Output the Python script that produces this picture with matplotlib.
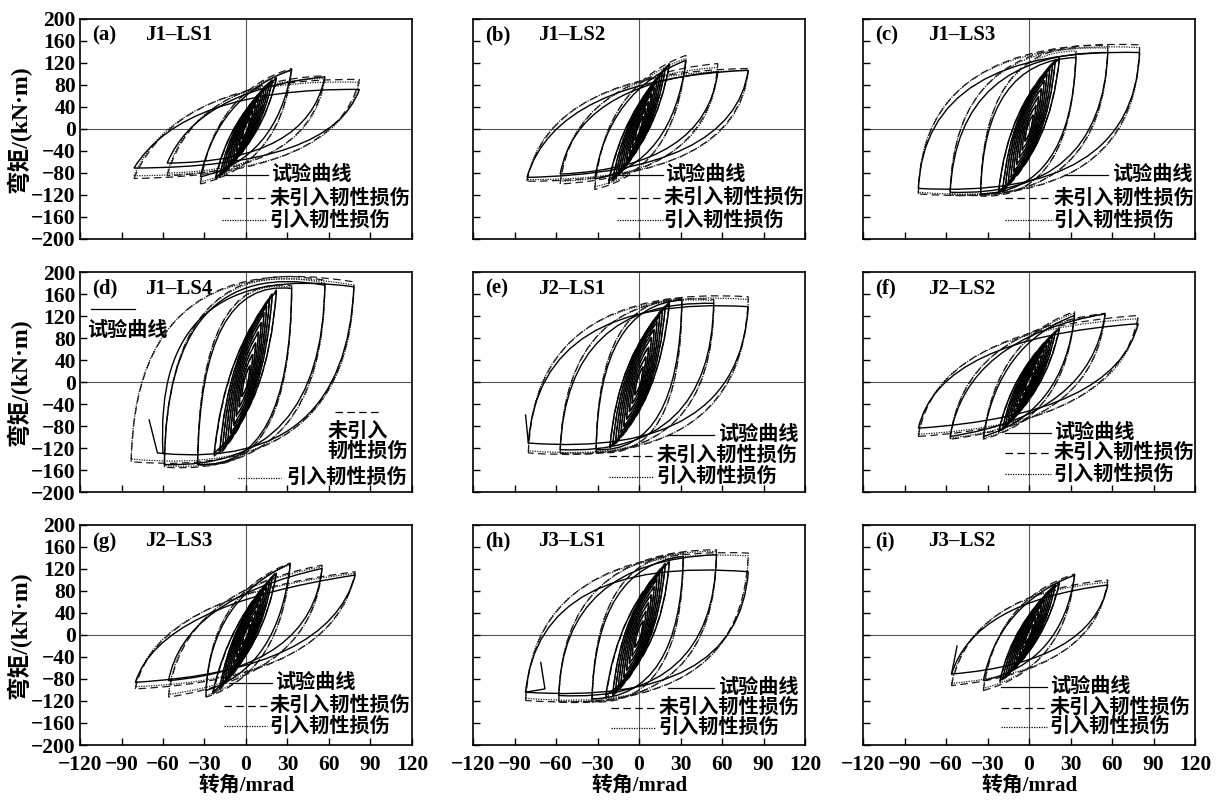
import matplotlib
matplotlib.use("Agg")
import matplotlib.pyplot as plt
from matplotlib.path import Path
from matplotlib.patches import PathPatch

# ---- data (rotation in mrad, moment in kN*m) ----
# one entry per loading cycle: + tip, - tip, and bezier control points of the
# reloading (CU) and unloading (CD) branches; *_CU_M / *_CD_M are the fuller
# controls of the model curves for the large cycles

A_XP = [3, 5, 7, 9, 11, 13, 15, 17, 19, 22, 33, 57, 82]
A_XN = [-3, -5, -7, -9, -11, -13, -15, -17, -19, -22, -33, -57, -81]
A_MP = [20, 32, 43, 54, 63, 71, 78, 84, 88, 92, 108, 95, 72]
A_MN = [-18, -29, -40, -50, -59, -67, -74, -80, -85, -88, -87, -62, -71]
A_MP_DASH = [21, 34, 45, 56, 65, 73, 80, 86, 90, 94, 110, 97, 90]
A_MN_DASH = [-19, -31, -42, -53, -62, -70, -78, -84, -89, -92, -100, -85, -90]
A_MP_DOT = [21, 33, 44, 55, 64, 72, 79, 85, 89, 93, 106, 92, 85]
A_MN_DOT = [-19, -30, -41, -52, -61, -69, -76, -82, -87, -90, -96, -80, -85]
A_CU = [(-1.7, 5), (-2.8, 8), (-3.9, 11), (-5, 13), (-6, 16), (-7.2, 18), (-8.3, 19),
        (-9.4, 21), (-10.5, 22), (-12, 23), (-20, 60), (-35, 70), (-45, 75)]
A_CD = [(1.7, -4.5), (2.8, -7), (3.9, -10), (5, -12.5), (6, -15), (7.2, -17), (8.3, -18.5),
        (9.4, -20), (10.5, -21), (12, -22), (22, -55), (45, -60), (62, -70)]
A_CU_M = [(-22, 70), (-38, 85), (-50, 95)]
A_CD_M = [(25, -65), (48, -75), (66, -85)]

B_XP = [3, 5, 7, 9, 11, 13, 15, 17, 19, 22, 34, 57, 79]
B_XN = [-3, -5, -7, -9, -11, -13, -15, -17, -19, -22, -32, -57, -81]
B_MP = [22, 36, 50, 63, 75, 86, 96, 104, 110, 117, 125, 104, 107]
B_MN = [-20, -33, -45, -56, -66, -74, -81, -87, -91, -95, -91, -82, -88]
B_MP_DASH = [23, 38, 52, 65, 77, 88, 98, 106, 112, 119, 134, 119, 110]
B_MN_DASH = [-21, -35, -47, -59, -69, -77, -85, -91, -95, -100, -110, -100, -95]
B_MP_DOT = [23, 37, 51, 64, 76, 87, 97, 105, 111, 118, 128, 112, 106]
B_MN_DOT = [-21, -34, -46, -58, -68, -76, -83, -89, -93, -98, -105, -95, -92]
B_CU = [(-1.7, 5.5), (-2.8, 9), (-3.9, 12.5), (-5, 16), (-6, 19), (-7.2, 21.5), (-8.3, 24),
        (-9.4, 26), (-10.5, 27.5), (-12, 29), (-22, 70), (-45, 80), (-60, 90)]
B_CD = [(1.7, -5), (2.8, -8), (3.9, -11), (5, -14), (6, -16.5), (7.2, -18.5), (8.3, -20),
        (9.4, -22), (10.5, -23), (12, -24), (24, -65), (48, -70), (68, -80)]
B_CU_M = [(-25, 80), (-48, 95), (-65, 105)]
B_CD_M = [(27, -75), (52, -85), (72, -95)]

C_XP = [3, 5, 7, 9, 11, 13, 15, 17, 19, 22, 34, 57, 80]
C_XN = [-3, -5, -7, -9, -11, -13, -15, -17, -19, -22, -35, -57, -80]
C_MP = [25, 42, 58, 73, 87, 99, 109, 117, 123, 128, 130, 139, 139]
C_MN = [-22, -37, -51, -64, -76, -87, -96, -104, -110, -114, -118, -115, -108]
C_MP_DASH = [26, 44, 60, 75, 89, 101, 111, 120, 126, 132, 148, 152, 153]
C_MN_DASH = [-23, -39, -53, -66, -79, -90, -99, -107, -114, -118, -122, -120, -118]
C_MP_DOT = [26, 43, 59, 74, 88, 100, 110, 119, 125, 130, 142, 147, 148]
C_MN_DOT = [-23, -38, -52, -65, -78, -89, -98, -106, -112, -116, -120, -118, -115]
C_CU = [(-2.1, 9), (-3.5, 15), (-4.9, 20), (-6.3, 26), (-7.7, 30), (-9.1, 35), (-10.5, 38),
        (-11.9, 41), (-13.3, 43), (-15.4, 45), (-33, 125), (-52, 140), (-75, 150)]
C_CD = [(2.1, -8), (3.5, -13), (4.9, -18), (6.3, -22), (7.7, -27), (9.1, -30), (10.5, -34),
        (11.9, -36), (13.3, -38), (15.4, -40), (30, -115), (52, -125), (75, -130)]
C_CU_M = [(-34, 140), (-55, 160), (-78, 170)]
C_CD_M = [(32, -130), (55, -140), (78, -150)]

D_XP = [3, 5, 7, 9, 11, 13, 15, 17, 19, 22, 33, 57, 78]
D_XN = [-3, -5, -7, -9, -11, -13, -15, -17, -19, -23, -35, -59, -60]
D_XN_MODEL = [-3, -5, -7, -9, -11, -13, -15, -17, -19, -23, -35, -59, -83]
D_MP = [30, 50, 70, 90, 108, 124, 138, 150, 158, 165, 170, 176, 173]
D_MN = [-26, -44, -61, -77, -92, -104, -114, -121, -126, -129, -150, -150, -130]
D_MP_DASH = [31, 52, 72, 92, 110, 127, 141, 153, 161, 168, 175, 185, 182]
D_MN_DASH = [-27, -46, -63, -80, -95, -108, -118, -126, -131, -135, -150, -155, -145]
D_MP_DOT = [31, 51, 71, 91, 109, 126, 140, 152, 160, 167, 172, 180, 176]
D_MN_DOT = [-27, -45, -62, -79, -94, -106, -116, -124, -129, -132, -148, -152, -140]
D_CU = [(-2.1, 10), (-3.5, 18), (-4.9, 25), (-6.3, 32), (-7.7, 38), (-9.1, 43), (-10.5, 48),
        (-11.9, 52), (-13.3, 55), (-15.4, 58), (-33, 190), (-58, 230), (-68, 225)]
D_CD = [(2.1, -9), (3.5, -15), (4.9, -21), (6.3, -27), (7.7, -32), (9.1, -36), (10.5, -40),
        (11.9, -42), (13.3, -44), (16, -45), (32, -160), (55, -160), (72, -160)]
D_CU_M = [(-34, 200), (-58, 240), (-80, 250)]
D_CD_M = [(33, -170), (57, -175), (76, -180)]
D_TAIL = [(-64, -129), (-70, -69)]

E_XP = [3, 5, 7, 9, 11, 13, 15, 17, 19, 22, 31, 54, 79]
E_XN = [-3, -5, -7, -9, -11, -13, -15, -17, -19, -21, -31, -57, -80]
E_MP = [27, 45, 63, 80, 95, 108, 120, 130, 137, 143, 149, 143, 137]
E_MN = [-23, -38, -53, -67, -80, -91, -101, -109, -114, -117, -123, -123, -111]
E_MP_DASH = [28, 47, 65, 82, 97, 111, 123, 133, 140, 146, 152, 150, 155]
E_MN_DASH = [-24, -40, -55, -69, -82, -94, -104, -112, -117, -120, -128, -130, -129]
E_MP_DOT = [28, 46, 64, 81, 96, 110, 122, 132, 139, 145, 150, 148, 150]
E_MN_DOT = [-24, -39, -54, -68, -81, -93, -103, -111, -116, -119, -126, -128, -125]
E_CU = [(-2.1, 9.5), (-3.5, 16), (-4.9, 22), (-6.3, 28), (-7.7, 33), (-9.1, 38), (-10.5, 42),
        (-11.9, 45), (-13.3, 48), (-15.4, 50), (-29, 140), (-52, 150), (-72, 160)]
E_CD = [(2.1, -8), (3.5, -13), (4.9, -18.5), (6.3, -23.5), (7.7, -28), (9.1, -32), (10.5, -35),
        (11.9, -38), (13.3, -40), (14.7, -41), (29, -130), (52, -135), (72, -140)]
E_CU_M = [(-30, 155), (-54, 170), (-76, 180)]
E_CD_M = [(31, -145), (55, -150), (76, -160)]
E_TAIL = [(-82, -60)]

F_XP = [3, 5, 7, 9, 11, 13, 15, 17, 19, 22, 33, 55, 79]
F_XN = [-3, -5, -7, -9, -11, -13, -15, -17, -19, -22, -33, -57, -80]
F_MP = [17, 28, 38, 48, 58, 67, 76, 84, 90, 96, 121, 124, 106]
F_MN = [-15, -25, -35, -44, -53, -62, -70, -77, -84, -90, -99, -99, -84]
F_MP_DASH = [18, 30, 40, 50, 60, 69, 78, 86, 92, 99, 128, 125, 121]
F_MN_DASH = [-16, -27, -37, -46, -55, -64, -72, -80, -87, -93, -104, -104, -99]
F_MP_DOT = [18, 29, 39, 49, 59, 68, 77, 85, 91, 98, 125, 123, 115]
F_MN_DOT = [-16, -26, -36, -45, -54, -63, -71, -78, -85, -91, -102, -102, -95]
F_CU = [(-1.7, 4), (-2.8, 7), (-3.9, 9.5), (-5, 12), (-6, 14.5), (-7.2, 17), (-8.3, 19),
        (-9.4, 21), (-10.5, 22.5), (-12, 24), (-22, 70), (-45, 80), (-65, 80)]
F_CD = [(1.7, -4), (2.8, -6), (3.9, -9), (5, -11), (6, -13), (7.2, -15.5), (8.3, -17.5),
        (9.4, -19), (10.5, -21), (12, -22.5), (25, -55), (45, -60), (62, -60)]
F_CU_M = [(-24, 80), (-48, 92), (-68, 95)]
F_CD_M = [(27, -65), (48, -72), (66, -75)]

G_XP = [3, 5, 7, 9, 11, 13, 15, 17, 19, 22, 32, 55, 79]
G_XN = [-3, -5, -7, -9, -11, -13, -15, -17, -19, -24, -29, -56, -80]
G_MP = [19, 31, 43, 55, 66, 77, 87, 96, 104, 112, 130, 121, 109]
G_MN = [-17, -28, -39, -50, -60, -70, -79, -88, -96, -104, -101, -83, -86]
G_MP_DASH = [20, 33, 45, 57, 68, 79, 89, 98, 107, 115, 131, 127, 115]
G_MN_DASH = [-18, -30, -41, -52, -62, -73, -82, -91, -100, -108, -113, -113, -98]
G_MP_DOT = [20, 32, 44, 56, 67, 78, 88, 97, 105, 113, 128, 124, 112]
G_MN_DOT = [-18, -29, -40, -51, -61, -71, -80, -89, -98, -106, -110, -108, -94]
G_CU = [(-1.7, 5), (-2.8, 8), (-3.9, 11), (-5, 14), (-6, 16.5), (-7.2, 19), (-8.3, 22),
        (-9.4, 24), (-10.5, 26), (-12, 28), (-25, 65), (-45, 65), (-62, 55)]
G_CD = [(1.7, -4), (2.8, -7), (3.9, -10), (5, -12.5), (6, -15), (7.2, -17.5), (8.3, -20),
        (9.4, -22), (10.5, -24), (13, -26), (24, -60), (47, -60), (60, -65)]
G_CU_M = [(-27, 75), (-48, 78), (-66, 70)]
G_CD_M = [(26, -70), (50, -72), (64, -80)]

H_XP = [3, 5, 7, 9, 11, 13, 15, 17, 19, 22, 32, 56, 79]
H_XN = [-3, -5, -7, -9, -11, -13, -15, -17, -19, -24, -34, -58, -82]
H_MP = [25, 42, 58, 73, 87, 100, 111, 120, 127, 133, 143, 146, 115]
H_MN = [-22, -37, -51, -64, -76, -86, -95, -102, -107, -110, -116, -110, -104]
H_MP_DASH = [26, 44, 60, 75, 89, 103, 114, 123, 131, 137, 150, 155, 149]
H_MN_DASH = [-23, -39, -53, -66, -78, -89, -98, -106, -111, -115, -122, -122, -119]
H_MP_DOT = [26, 43, 59, 74, 88, 102, 113, 122, 129, 135, 147, 152, 144]
H_MN_DOT = [-23, -38, -52, -65, -77, -88, -97, -104, -109, -113, -120, -120, -115]
H_CU = [(-2.1, 9), (-3.5, 15), (-4.9, 20), (-6.3, 26), (-7.7, 30), (-9.1, 35), (-10.5, 39),
        (-11.9, 42), (-13.3, 44), (-15.4, 47), (-31, 125), (-55, 135), (-72, 145)]
H_CD = [(2.1, -8), (3.5, -13), (4.9, -18), (6.3, -22), (7.7, -27), (9.1, -30), (10.5, -33),
        (11.9, -36), (13.3, -37), (16.8, -38), (30, -115), (54, -125), (72, -130)]
H_CU_M = [(-32, 140), (-57, 155), (-76, 165)]
H_CD_M = [(32, -130), (56, -140), (76, -150)]
H_TAIL = [(-68, -98), (-71, -50)]

I_XP = [3, 5, 7, 9, 11, 13, 15, 17, 19, 22, 33, 57]
I_XN = [-3, -5, -7, -9, -11, -13, -15, -17, -19, -21, -33, -56]
I_MP = [19, 31, 42, 53, 62, 71, 78, 85, 90, 94, 109, 91]
I_MN = [-15, -25, -35, -44, -53, -61, -68, -74, -79, -83, -83, -71]
I_MP_DASH = [20, 33, 44, 55, 64, 73, 80, 87, 93, 97, 111, 100]
I_MN_DASH = [-16, -27, -37, -46, -55, -63, -70, -77, -82, -86, -101, -92]
I_MP_DOT = [20, 32, 43, 54, 63, 72, 79, 86, 92, 96, 108, 96]
I_MN_DOT = [-16, -26, -36, -45, -54, -62, -69, -75, -80, -85, -97, -88]
I_CU = [(-1.7, 5), (-2.8, 8), (-3.9, 10.5), (-5, 13), (-6, 15.5), (-7.2, 18), (-8.3, 19.5),
        (-9.4, 21), (-10.5, 22.5), (-12, 23.5), (-22, 55), (-40, 60)]
I_CD = [(1.7, -4), (2.8, -6), (3.9, -9), (5, -11), (6, -13), (7.2, -15), (8.3, -17),
        (9.4, -18.5), (10.5, -20), (11.5, -21), (24, -50), (45, -50)]
I_CU_M = [(-24, 65), (-43, 75)]
I_CD_M = [(26, -60), (48, -65)]
I_TAIL = [(-52, -20)]

LABELS = ["(a)", "(b)", "(c)", "(d)", "(e)", "(f)", "(g)", "(h)", "(i)"]
NAMES = ["J1–LS1", "J1–LS2", "J1–LS3", "J1–LS4", "J2–LS1", "J2–LS2",
         "J2–LS3", "J3–LS1", "J3–LS2"]
LEGEND_TEXT = ["试验曲线", "未引入韧性损伤", "引入韧性损伤"]
X_TICKS = [-120, -90, -60, -30, 0, 30, 60, 90, 120]
Y_TICKS = [-200, -160, -120, -80, -40, 0, 40, 80, 120, 160, 200]

panels = [
    dict(xp=A_XP, xn=A_XN, mp=A_MP, mn=A_MN, mpd=A_MP_DASH, mnd=A_MN_DASH,
         mpo=A_MP_DOT, mno=A_MN_DOT, cu=A_CU, cd=A_CD, cum=A_CU_M, cdm=A_CD_M),
    dict(xp=B_XP, xn=B_XN, mp=B_MP, mn=B_MN, mpd=B_MP_DASH, mnd=B_MN_DASH,
         mpo=B_MP_DOT, mno=B_MN_DOT, cu=B_CU, cd=B_CD, cum=B_CU_M, cdm=B_CD_M),
    dict(xp=C_XP, xn=C_XN, mp=C_MP, mn=C_MN, mpd=C_MP_DASH, mnd=C_MN_DASH,
         mpo=C_MP_DOT, mno=C_MN_DOT, cu=C_CU, cd=C_CD, cum=C_CU_M, cdm=C_CD_M),
    dict(xp=D_XP, xn=D_XN, xnm=D_XN_MODEL, mp=D_MP, mn=D_MN, mpd=D_MP_DASH,
         mnd=D_MN_DASH, mpo=D_MP_DOT, mno=D_MN_DOT, cu=D_CU, cd=D_CD,
         cum=D_CU_M, cdm=D_CD_M, tail=D_TAIL),
    dict(xp=E_XP, xn=E_XN, mp=E_MP, mn=E_MN, mpd=E_MP_DASH, mnd=E_MN_DASH,
         mpo=E_MP_DOT, mno=E_MN_DOT, cu=E_CU, cd=E_CD, cum=E_CU_M, cdm=E_CD_M,
         tail=E_TAIL),
    dict(xp=F_XP, xn=F_XN, mp=F_MP, mn=F_MN, mpd=F_MP_DASH, mnd=F_MN_DASH,
         mpo=F_MP_DOT, mno=F_MN_DOT, cu=F_CU, cd=F_CD, cum=F_CU_M, cdm=F_CD_M),
    dict(xp=G_XP, xn=G_XN, mp=G_MP, mn=G_MN, mpd=G_MP_DASH, mnd=G_MN_DASH,
         mpo=G_MP_DOT, mno=G_MN_DOT, cu=G_CU, cd=G_CD, cum=G_CU_M, cdm=G_CD_M),
    dict(xp=H_XP, xn=H_XN, mp=H_MP, mn=H_MN, mpd=H_MP_DASH, mnd=H_MN_DASH,
         mpo=H_MP_DOT, mno=H_MN_DOT, cu=H_CU, cd=H_CD, cum=H_CU_M, cdm=H_CD_M,
         tail=H_TAIL),
    dict(xp=I_XP, xn=I_XN, mp=I_MP, mn=I_MN, mpd=I_MP_DASH, mnd=I_MN_DASH,
         mpo=I_MP_DOT, mno=I_MN_DOT, cu=I_CU, cd=I_CD, cum=I_CU_M, cdm=I_CD_M,
         tail=I_TAIL),
]

# legend placement per panel: (x0, x1, y, text_x) for solid / dashed / dotted
legend_pos = [
    [(-16, 16, -83, 18), (-17, 15, -126, 17), (-17, 15, -166, 17)],
    [(-16, 17, -83, 19), (-16, 17, -125, 18), (-16, 17, -166, 18)],
    [(25, 57, -83, 60), (-17, 17, -126, 18), (-17, 17, -166, 18)],
    None,
    [(21, 54, -96, 57), (-22, 10, -135, 13), (-22, 10, -173, 13)],
    [(-17, 16, -92, 18), (-17, 16, -129, 18), (-17, 16, -168, 18)],
    [(-12, 19, -88, 21), (-16, 15, -129, 17), (-16, 15, -166, 17)],
    [(21, 54, -97, 57), (-20, 12, -133, 14), (-20, 12, -169, 14)],
    [(-20, 13, -95, 15), (-20, 13, -132, 15), (-20, 13, -167, 15)],
]

SERIF = "Liberation Serif"
CJK = [SERIF, "Noto Sans CJK SC", "DejaVu Sans"]
DASH = (0, (6, 3.5))
DOT = (0, (1.0, 1.0))
LEG_FS = 14.5


def draw_loops(ax, xp, xn, mp, mn, cu, cd, **kw):
    for i in range(len(xp)):
        verts = [(xn[i], mn[i]), cu[i], (xp[i], mp[i]), cd[i], (xn[i], mn[i])]
        codes = [Path.MOVETO, Path.CURVE3, Path.CURVE3, Path.CURVE3, Path.CURVE3]
        ax.add_patch(PathPatch(Path(verts, codes), fill=False, **kw))


fig = plt.figure(figsize=(12.21, 8.05), dpi=100)
col_left = [80, 473, 863]
row_top = [19, 272, 525]
w_px, h_px = 332, 220

for k, p in enumerate(panels):
    r, c = divmod(k, 3)
    ax = fig.add_axes([col_left[c] / 1221, 1 - (row_top[r] + h_px) / 805,
                       w_px / 1221, h_px / 805])
    ax.set_xlim(-120, 120)
    ax.set_ylim(-200, 200)
    ax.axhline(0, color="#555555", lw=0.8, zorder=1)
    ax.axvline(0, color="#555555", lw=0.8, zorder=1)

    n_big = len(p["cum"])
    cu_m = p["cu"][:-n_big] + p["cum"]
    cd_m = p["cd"][:-n_big] + p["cdm"]
    xnm = p.get("xnm", p["xn"])
    draw_loops(ax, p["xp"], xnm, p["mpd"], p["mnd"], cu_m, cd_m,
               ec="#1a1a1a", lw=0.9, ls=DASH, zorder=2)
    draw_loops(ax, p["xp"], xnm, p["mpo"], p["mno"], cu_m, cd_m,
               ec="#1a1a1a", lw=0.9, ls=DOT, zorder=2)
    draw_loops(ax, p["xp"], p["xn"], p["mp"], p["mn"], p["cu"], p["cd"],
               ec="black", lw=1.0, ls="-", zorder=3)
    if "tail" in p:
        tx = [p["xn"][-1]] + [t[0] for t in p["tail"]]
        ty = [p["mn"][-1]] + [t[1] for t in p["tail"]]
        ax.plot(tx, ty, color="black", lw=1.0, zorder=3)

    ax.text(-111, 170, LABELS[k], fontsize=15, family=SERIF, weight="bold",
            va="center", ha="left")
    ax.text(-73, 170, NAMES[k], fontsize=15, family=SERIF, weight="bold",
            va="center", ha="left")

    styles = ["-", DASH, DOT]
    if legend_pos[k] is not None:
        for (x0, x1, y, tx), st, lab in zip(legend_pos[k], styles, LEGEND_TEXT):
            ax.plot([x0, x1], [y, y], color="black", lw=0.9, ls=st, zorder=4)
            ax.text(tx, y, lab, fontsize=LEG_FS, family=CJK, weight="bold",
                    va="center", ha="left", zorder=4)
    else:
        ax.plot([-112, -80], [132, 132], color="black", lw=0.9, zorder=4)
        ax.text(-115, 92, LEGEND_TEXT[0], fontsize=LEG_FS, family=CJK,
                weight="bold", va="center", ha="left")
        ax.plot([64, 96], [-55, -55], color="black", lw=0.9, ls=DASH, zorder=4)
        ax.text(59, -90, "未引入", fontsize=LEG_FS, family=CJK, weight="bold",
                va="center", ha="left")
        ax.text(59, -127, "韧性损伤", fontsize=LEG_FS, family=CJK, weight="bold",
                va="center", ha="left")
        ax.plot([-6, 25], [-175, -175], color="black", lw=0.9, ls=DOT, zorder=4)
        ax.text(29, -175, LEGEND_TEXT[2], fontsize=LEG_FS, family=CJK,
                weight="bold", va="center", ha="left")

    ax.set_xticks(X_TICKS)
    ax.set_yticks(Y_TICKS)
    ax.tick_params(direction="in", length=5, width=1, top=False, right=False,
                   labelbottom=(r == 2), labelleft=(c == 0))
    ax.tick_params(axis="x", pad=7)
    ax.tick_params(axis="y", pad=3)
    for lab in ax.get_xticklabels() + ax.get_yticklabels():
        lab.set_fontfamily(SERIF)
        lab.set_fontweight("bold")
        lab.set_fontsize(15.5)
    for s in ax.spines.values():
        s.set_linewidth(1.2)
    if c == 0:
        ax.set_ylabel("弯矩/(kN·m)", family=CJK, fontsize=17, weight="bold",
                      labelpad=0)
    if r == 2:
        ax.set_xlabel("转角/mrad", family=CJK, fontsize=15, weight="bold",
                      labelpad=1)

fig.savefig("out.png", dpi=100)
